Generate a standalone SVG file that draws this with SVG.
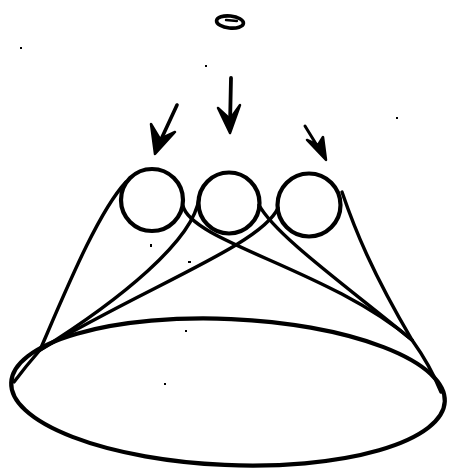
<svg xmlns="http://www.w3.org/2000/svg" width="449" height="470" viewBox="0 0 449 470">
<style>
.ink{fill:none;stroke:#000;stroke-linecap:round;stroke-linejoin:round}
.c{stroke-width:4.2}
.l{stroke-width:3.4}
.head{fill:#000;stroke:#000;stroke-width:2.5;stroke-linejoin:round}
.dot{fill:#000}
</style>
<rect width="449" height="470" fill="#fff"/>
<g id="source">
<ellipse class="ink" cx="230" cy="22" rx="13.5" ry="6" stroke-width="3.6" transform="rotate(6 230 22)"/>
<path class="ink" d="M226,20 L237,21" stroke-width="2.4"/>
</g>
<g id="arrows">
<path class="ink" stroke-width="3.6" d="M177,105 L158,146"/>
<path class="head" d="M155,154 L151,124 L160,139 L175,132 Z"/>
<path class="ink" stroke-width="3.8" d="M231,78 L230,125"/>
<path class="head" d="M230,133 L218,108 L230,119 L240,105 Z"/>
<path class="ink" stroke-width="3" d="M305,126 L321,152"/>
<path class="head" d="M326,160 L307,140 L318,145 L323,137 Z"/>
</g>
<g id="circle1"><circle class="ink c" cx="152" cy="200" r="31"/></g>
<g id="circle2"><circle class="ink c" cx="229" cy="203" r="30.5"/></g>
<g id="circle3"><circle class="ink c" cx="309" cy="205" r="31.5"/></g>
<g id="base"><ellipse class="ink" stroke-width="4.2" cx="228" cy="392" rx="217" ry="73" transform="rotate(2.5 228 392)"/></g>
<g id="connectors">
<path class="ink l" d="M126,182 C98,212 66,290 40,350 Q 26,366 14,382"/>
<path class="ink l" d="M199,198 C194,240 120,300 40,350"/>
<path class="ink l" d="M278,208 C262,244 150,285 40,350"/>
<path class="ink l" d="M183,206 C192,242 330,270 412,340"/>
<path class="ink l" d="M259,205 C275,235 345,285 412,340"/>
<path class="ink l" d="M342,192 C355,230 372,272 412,340 Q 430,365 441,392"/>
</g>
<g id="specks">
<rect class="dot" x="20" y="47" width="2" height="2"/>
<rect class="dot" x="396" y="117" width="2" height="2"/>
<rect class="dot" x="205" y="65" width="2" height="2"/>
<rect class="dot" x="150" y="244" width="2" height="3"/>
<rect class="dot" x="188" y="261" width="3" height="2"/>
<rect class="dot" x="185" y="330" width="2" height="2"/>
<rect class="dot" x="164" y="383" width="2" height="2"/>
</g>
</svg>
